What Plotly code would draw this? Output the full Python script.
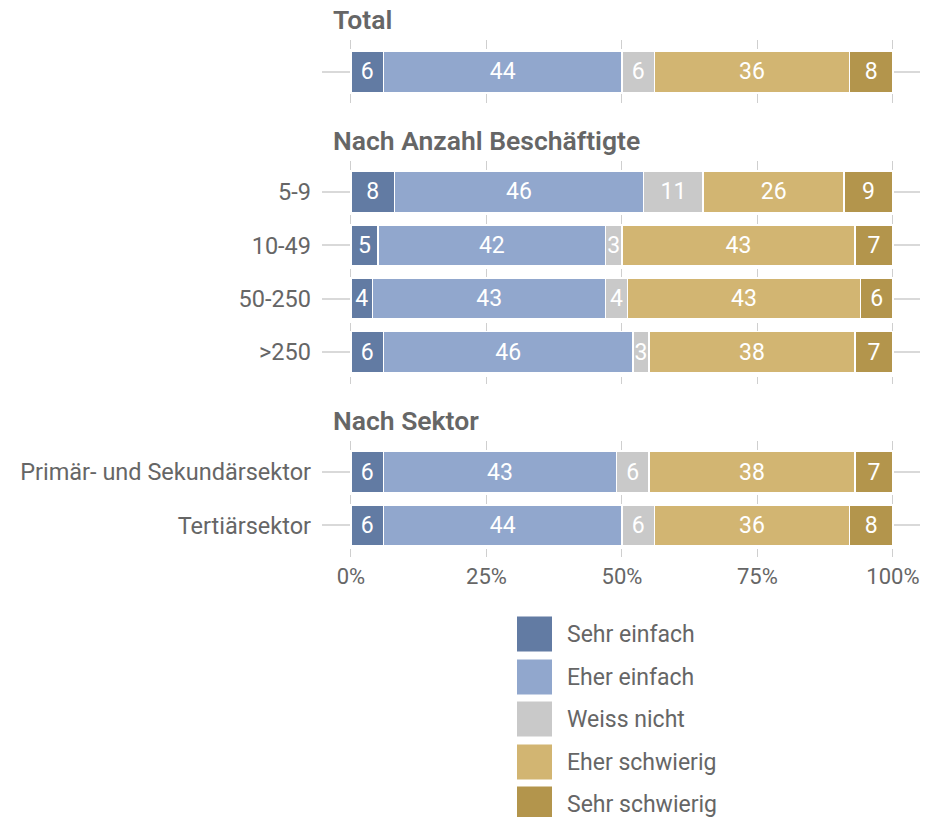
import plotly.graph_objects as go
from plotly.subplots import make_subplots

W, H = 925, 817

series_names = ["Sehr einfach", "Eher einfach", "Weiss nicht", "Eher schwierig", "Sehr schwierig"]
series_colors = ["#627ba3", "#91a7cd", "#c9c9c9", "#d2b572", "#b3954c"]

group_titles = ["Total", "Nach Anzahl Beschäftigte", "Nach Sektor"]

cats_total = ["Total"]
cats_size = ["5-9", "10-49", "50-250", ">250"]
cats_sector = ["Primär- und Sekundärsektor", "Tertiärsektor"]

sehr_einfach = [[6], [8, 5, 4, 6], [6, 6]]
eher_einfach = [[44], [46, 42, 43, 46], [43, 44]]
weiss_nicht = [[6], [11, 3, 4, 3], [6, 6]]
eher_schwierig = [[36], [26, 43, 43, 38], [38, 36]]
sehr_schwierig = [[8], [9, 7, 6, 7], [7, 8]]

x_ticks = [0, 25, 50, 75, 100]
x_ticklabels = ["0%", "25%", "50%", "75%", "100%"]

groups_cats = [cats_total, cats_size, cats_sector]
series_values = [sehr_einfach, eher_einfach, weiss_nicht, eher_schwierig, sehr_schwierig]

FONT = "Roboto"
GREY = "#666666"

fig = make_subplots(rows=3, cols=1, shared_xaxes=False)

for gi, cats in enumerate(groups_cats):
    for si, name in enumerate(series_names):
        vals = series_values[si][gi]
        fig.add_trace(
            go.Bar(
                y=cats, x=vals, name=name, orientation="h",
                marker=dict(color=series_colors[si], line=dict(color="white", width=1.5)),
                width=0.77,
                text=[str(v) for v in vals],
                textposition="inside", insidetextanchor="middle",
                constraintext="none",
                textfont=dict(color="white", size=23, family=FONT),
                showlegend=False, hoverinfo="skip",
            ),
            row=gi + 1, col=1,
        )

fig.update_layout(barmode="stack")

def py(px):
    return 1 - px / H

def pxx(px):
    return px / W

x_dom = [pxx(322), pxx(920)]
domains = [(40, 103.5), (160.5, 383.5), (440.5, 557)]
ranges = [[-0.59, 0.59], [-0.59, 3.59], [-0.59, 1.59]]

for i in range(3):
    xa = "xaxis" if i == 0 else f"xaxis{i+1}"
    ya = "yaxis" if i == 0 else f"yaxis{i+1}"
    top, bot = domains[i]
    fig.layout[xa].update(
        domain=x_dom, range=[-5.35, 105.0], tickvals=x_ticks, ticktext=x_ticklabels,
        showticklabels=(i == 2), showgrid=True, gridcolor="#cfcfcf", griddash="dash",
        gridwidth=1, zeroline=False, showline=False, ticklabelstandoff=4,
        tickfont=dict(family=FONT, size=22, color=GREY), ticks="",
    )
    fig.layout[ya].update(
        domain=[py(bot), py(top)], range=[ranges[i][1], ranges[i][0]],
        type="category", showgrid=True, gridcolor="#d9d9d9", gridwidth=1.5,
        zeroline=False, showline=False, ticks="",
        showticklabels=(i != 0), ticklabelstandoff=10,
        tickfont=dict(family=FONT, size=23.5, color=GREY),
    )

annotations = []
title_y = [20, 140, 420]
for t, yy in zip(group_titles, title_y):
    annotations.append(dict(
        text=t, x=pxx(331), y=py(yy), xref="paper", yref="paper",
        xanchor="left", yanchor="middle", showarrow=False,
        font=dict(family=FONT, size=26.5, color=GREY, weight=600),
    ))

shapes = []
leg_y = [634, 677, 719, 762, 804]
for name, col, yy in zip(series_names, series_colors, leg_y):
    shapes.append(dict(
        type="rect", xref="paper", yref="paper",
        x0=pxx(517), x1=pxx(552), y0=py(yy + 17.5), y1=py(yy - 17.5),
        fillcolor=col, line=dict(width=0),
    ))
    annotations.append(dict(
        text=name, x=pxx(565), y=py(yy), xref="paper", yref="paper",
        xanchor="left", yanchor="middle", showarrow=False,
        font=dict(family=FONT, size=23, color=GREY),
    ))

fig.update_layout(
    width=W, height=H, margin=dict(l=0, r=0, t=0, b=0, autoexpand=False),
    paper_bgcolor="white", plot_bgcolor="white",
    annotations=annotations, shapes=shapes, showlegend=False,
    font=dict(family=FONT, color=GREY),
)

fig.write_html("out.html")
